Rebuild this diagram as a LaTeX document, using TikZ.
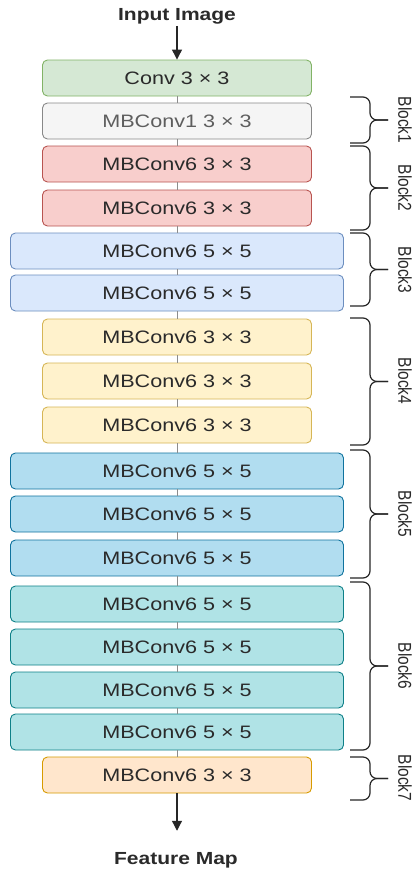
\documentclass[tikz,border=0pt]{standalone}
\usepackage{fontspec}
\setmainfont{Liberation Sans}
\usetikzlibrary{arrows.meta}
\definecolor{gfill}{HTML}{D5E8D4}\definecolor{gline}{HTML}{82B366}
\definecolor{hfill}{HTML}{F5F5F5}\definecolor{hline}{HTML}{888888}
\definecolor{rfill}{HTML}{F8CECC}\definecolor{rline}{HTML}{B85450}
\definecolor{bfill}{HTML}{DAE8FC}\definecolor{bline}{HTML}{6C8EBF}
\definecolor{yfill}{HTML}{FFF2CC}\definecolor{yline}{HTML}{D6B656}
\definecolor{cfill}{HTML}{B1DDF0}\definecolor{cline}{HTML}{10739E}
\definecolor{tfill}{HTML}{B0E3E6}\definecolor{tline}{HTML}{0E8088}
\definecolor{ofill}{HTML}{FFE6CC}\definecolor{oline}{HTML}{D79B00}
\definecolor{txt}{HTML}{2A2A2A}
\definecolor{txtgray}{HTML}{5E5E5E}
\newcommand\stretchtxt[1]{\scalebox{1.2}[1]{#1}}
\newcommand\stretchlbl[1]{\scalebox{1}[1.2]{#1}}
\begin{document}
\begin{tikzpicture}[x=1pt,y=-1pt,
  box/.style={draw, rounded corners=5pt, minimum height=36pt, inner sep=0pt,
    line width=0.9pt, text=txt, font=\fontsize{18}{20}\selectfont},
  narrow/.style={box, minimum width=269pt},
  wide/.style={box, minimum width=333pt},
  green/.style={fill=gfill, draw=gline},
  grey/.style={fill=hfill, draw=hline, text=txtgray},
  red/.style={fill=rfill, draw=rline},
  blue/.style={fill=bfill, draw=bline},
  yellow/.style={fill=yfill, draw=yline},
  cyan/.style={fill=cfill, draw=cline},
  teal/.style={fill=tfill, draw=tline},
  orange/.style={fill=ofill, draw=oline},
  conn/.style={draw=black!45, line width=1pt},
  arrowconn/.style={draw=black!85, line width=1.2pt, -{Triangle[width=10pt,length=10pt]}},
  title/.style={font=\bfseries\fontsize{17.5}{19}\selectfont, text=txt, inner sep=2pt},
  brace/.style={draw=black!85, line width=1.2pt, rounded corners=7pt},
  lbl/.style={rotate=-90, font=\fontsize{15.5}{17}\selectfont, text=txt, inner sep=0pt}
]
\useasboundingbox[fill=white] (0,0) rectangle (412,873);

\node[title, anchor=base] (in) at (177,20) {\stretchtxt{Input Image}};

\node[narrow, green]  (b0)  at (177,78)  {\stretchtxt{Conv 3 × 3}};
\node[narrow, grey]   (b1)  at (177,121) {\stretchtxt{MBConv1 3 × 3}};
\node[narrow, red]    (b2)  at (177,164) {\stretchtxt{MBConv6 3 × 3}};
\node[narrow, red]    (b3)  at (177,208) {\stretchtxt{MBConv6 3 × 3}};
\node[wide, blue]     (b4)  at (177,251) {\stretchtxt{MBConv6 5 × 5}};
\node[wide, blue]     (b5)  at (177,293) {\stretchtxt{MBConv6 5 × 5}};
\node[narrow, yellow] (b6)  at (177,337) {\stretchtxt{MBConv6 3 × 3}};
\node[narrow, yellow] (b7)  at (177,381) {\stretchtxt{MBConv6 3 × 3}};
\node[narrow, yellow] (b8)  at (177,425) {\stretchtxt{MBConv6 3 × 3}};
\node[wide, cyan]     (b9)  at (177,471) {\stretchtxt{MBConv6 5 × 5}};
\node[wide, cyan]     (b10) at (177,514) {\stretchtxt{MBConv6 5 × 5}};
\node[wide, cyan]     (b11) at (177,558) {\stretchtxt{MBConv6 5 × 5}};
\node[wide, teal]     (b12) at (177,604) {\stretchtxt{MBConv6 5 × 5}};
\node[wide, teal]     (b13) at (177,647) {\stretchtxt{MBConv6 5 × 5}};
\node[wide, teal]     (b14) at (177,690) {\stretchtxt{MBConv6 5 × 5}};
\node[wide, teal]     (b15) at (177,732) {\stretchtxt{MBConv6 5 × 5}};
\node[narrow, orange] (b16) at (177,775) {\stretchtxt{MBConv6 3 × 3}};

\node[title, anchor=base] (fm) at (176,864) {\stretchtxt{Feature Map}};

\draw[arrowconn] (in.south) -- (b0.north);
\foreach \a/\b in {b0/b1,b1/b2,b2/b3,b3/b4,b4/b5,b5/b6,b6/b7,b7/b8,b8/b9,b9/b10,b10/b11,b11/b12,b12/b13,b13/b14,b14/b15,b15/b16}
  \draw[conn] (\a.south) -- (\b.north);
\draw[arrowconn, shorten >=19pt] (b16.south) -- (b16.south |- fm.north);

% braces
\foreach \t/\bt in {97/143, 146/230, 233/306, 318/445, 450/578, 582/750, 757/800}{
  \pgfmathsetmacro\m{(\t+\bt)/2}
  \draw[brace] (350,\t) -- (370,\t) -- (370,\m) -- (388,\m);
  \draw[brace] (350,\bt) -- (370,\bt) -- (370,\m) -- (388,\m);
}
\node[lbl] (L1) at (405,120) {\stretchlbl{Block1}};
\node[lbl] (L2) at (405,188) {\stretchlbl{Block2}};
\node[lbl] (L3) at (405,270) {\stretchlbl{Block3}};
\node[lbl] (L4) at (405,381) {\stretchlbl{Block4}};
\node[lbl] (L5) at (405,514) {\stretchlbl{Block5}};
\node[lbl] (L6) at (405,666) {\stretchlbl{Block6}};
\node[lbl] (L7) at (405,778) {\stretchlbl{Block7}};
\end{tikzpicture}
\end{document}
